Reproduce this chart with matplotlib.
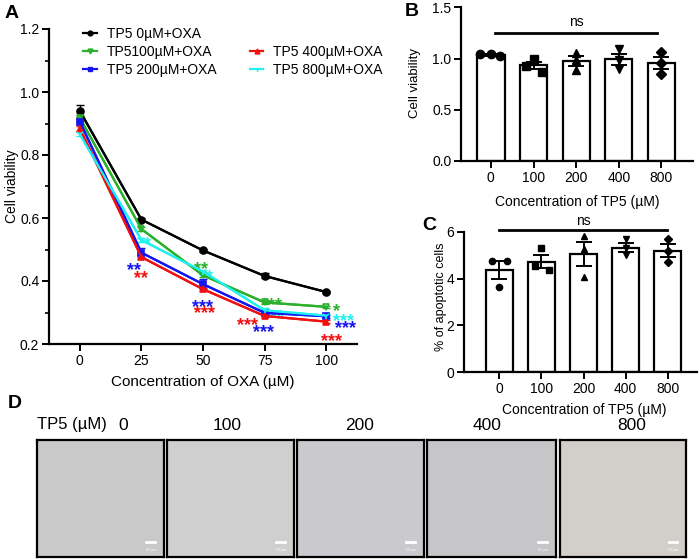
import numpy as np
import matplotlib
matplotlib.use("Agg")
import matplotlib.pyplot as plt
from matplotlib.lines import Line2D
from matplotlib.ticker import MultipleLocator, FormatStrFormatter

plt.rcParams['font.family'] = ['Liberation Sans', 'DejaVu Sans']

# ---------------- data ----------------
oxa_conc = [0, 25, 50, 75, 100]
series_labels = ["TP5 0µM+OXA", "TP5100µM+OXA", "TP5 200µM+OXA", "TP5 400µM+OXA", "TP5 800µM+OXA"]
via_tp5_0 = [0.940, 0.595, 0.497, 0.416, 0.365]
via_tp5_100 = [0.918, 0.565, 0.418, 0.332, 0.318]
via_tp5_200 = [0.906, 0.490, 0.390, 0.299, 0.288]
via_tp5_400 = [0.884, 0.476, 0.374, 0.289, 0.271]
via_tp5_800 = [0.866, 0.530, 0.430, 0.307, 0.290]
err_tp5_0 = [0.020, 0.005, 0.004, 0.008, 0.004]
err_tp5_100 = [0.010, 0.005, 0.005, 0.004, 0.004]
err_tp5_200 = [0.008, 0.015, 0.015, 0.005, 0.004]
err_tp5_400 = [0.008, 0.005, 0.005, 0.004, 0.004]
err_tp5_800 = [0.006, 0.006, 0.006, 0.006, 0.005]

# significance labels: (text, colour key, x, y)
star_labels = [
    ("*", "c", 27.5, 0.535),
    ("**", "b", 22.0, 0.452), ("**", "r", 24.8, 0.426),
    ("**", "g", 49.2, 0.455), ("**", "c", 51.2, 0.432),
    ("***", "b", 50.0, 0.336), ("***", "r", 50.8, 0.316),
    ("***", "g", 78.0, 0.342), ("***", "c", 78.5, 0.303),
    ("***", "r", 67.9, 0.279), ("***", "b", 74.4, 0.255),
    ("*", "g", 104.0, 0.323), ("***", "c", 107.0, 0.290),
    ("***", "b", 107.7, 0.268), ("***", "r", 102.0, 0.229),
]

tp5_cats = ["0", "100", "200", "400", "800"]
b_reps = [[1.045, 1.043, 1.020], [0.930, 1.000, 0.870], [1.050, 0.990, 0.890],
          [1.090, 0.990, 0.900], [1.060, 0.960, 0.850]]
b_jit = [[-0.25, 0.0, 0.22], [-0.17, 0.0, 0.19], [0, 0, 0], [0, 0, 0], [0, 0, 0]]
c_reps = [[4.76, 4.76, 3.62], [5.29, 4.53, 4.36], [5.83, 5.26, 4.08],
          [5.67, 5.29, 5.00], [5.67, 5.17, 4.72]]
c_jit = [[-0.18, 0.18, 0.0], [0.0, -0.16, 0.17], [0, 0, 0], [0, 0, 0], [0, 0, 0]]
group_markers = ["o", "s", "^", "v", "D"]

image_labels = ["0", "100", "200", "400", "800"]
image_colors = ["#c9c9c9", "#cfcfcf", "#c9c9ce", "#c6c6c8", "#d2cec9"]

# ---------------- figure ----------------
W, H = 699, 559
fig = plt.figure(figsize=(W / 100, H / 100), dpi=100)
fig.patch.set_facecolor("white")


def px_axes(x0, y0, x1, y1):
    return fig.add_axes([x0 / W, 1 - y1 / H, (x1 - x0) / W, (y1 - y0) / H])


def ftext(x, y, s, **kw):
    fig.text(x / W, 1 - y / H, s, ha="center", va="center", **kw)


def style_axes(ax):
    for s in ["top", "right"]:
        ax.spines[s].set_visible(False)
    for s in ["left", "bottom"]:
        ax.spines[s].set_linewidth(1.6)
    ax.tick_params(which="major", length=5, width=1.4, labelsize=10, pad=2)
    ax.tick_params(which="minor", length=3, width=1.2)


# ---------------- panel A ----------------
axA = px_axes(49, 29, 357, 344)
style_axes(axA)
colors = {"k": "black", "g": "#2ab02a", "b": "#1515f0", "r": "#f01010", "c": "#20f0f0"}
series = [
    (via_tp5_0, err_tp5_0, "k", "o"),
    (via_tp5_100, err_tp5_100, "g", "v"),
    (via_tp5_200, err_tp5_200, "b", "s"),
    (via_tp5_400, err_tp5_400, "r", "^"),
    (via_tp5_800, err_tp5_800, "c", "1"),
]
handles = []
for (vals, errs, ck, mk), lab in zip(series, series_labels):
    col = colors[ck]
    axA.errorbar(oxa_conc, vals, yerr=errs, color=col, lw=1.6, capsize=3,
                 elinewidth=1.0, capthick=1.0, zorder=3)
    axA.plot(oxa_conc, vals, color=col, lw=1.6, marker=mk, ms=5,
             mfc=col if mk != "v" else "none", mec=col, mew=1.2, zorder=4)
    handles.append(Line2D([], [], color=col, lw=1.6, marker=mk, ms=3.5, mfc=col, mec=col))
for txt, ck, x, y in star_labels:
    axA.annotate(txt, (x, y), xytext=(0, -4.5), textcoords="offset points",
                 ha="center", va="center", color=colors[ck], fontsize=13,
                 fontweight="bold")
axA.set_xlim(-12.5, 112.5)
axA.set_ylim(0.2, 1.2)
axA.set_xticks(oxa_conc)
axA.yaxis.set_major_locator(MultipleLocator(0.2))
axA.yaxis.set_minor_locator(MultipleLocator(0.1))
axA.yaxis.set_major_formatter(FormatStrFormatter("%.1f"))
blank = Line2D([], [], linestyle="none", marker=None)
leg_handles = [handles[0], handles[1], handles[2], blank, handles[3], handles[4]]
leg_labels = [series_labels[0], series_labels[1], series_labels[2], "", series_labels[3], series_labels[4]]
axA.legend(leg_handles, leg_labels, ncol=2, frameon=False, fontsize=10,
           loc="upper left", bbox_to_anchor=(83 / W, 1 - 27 / H),
           bbox_transform=fig.transFigure, borderpad=0, borderaxespad=0,
           handlelength=1.0, handletextpad=0.7, columnspacing=2.4, labelspacing=0.28)
ftext(12, 186, "Cell viability", rotation=90, fontsize=10)
ftext(203, 382, "Concentration of OXA (µM)", fontsize=11)

# ---------------- panel B ----------------
axB = px_axes(461, 7.3, 693, 161)
style_axes(axB)
xs = np.arange(len(tp5_cats))
b_mean = [np.mean(r) for r in b_reps]
b_sem = [np.std(r, ddof=1) / np.sqrt(len(r)) for r in b_reps]
axB.bar(xs, b_mean, width=0.64, color="white", edgecolor="black", lw=1.6, zorder=2)
axB.errorbar(xs, b_mean, yerr=b_sem, fmt="none", ecolor="black", elinewidth=1.4,
             capsize=5.5, capthick=1.4, zorder=3)
for i, (reps, jit) in enumerate(zip(b_reps, b_jit)):
    axB.plot(i + np.array(jit), reps, linestyle="none", marker=group_markers[i],
             ms=6 if group_markers[i] != "D" else 5, color="black", zorder=4)
axB.plot([0.1, 3.9], [1.25, 1.25], color="black", lw=2, clip_on=False)
axB.text(2.0, 1.36, "ns", ha="center", va="center", fontsize=10)
axB.set_xlim(-0.7, 4.74)
axB.set_ylim(0, 1.5)
axB.set_xticks(xs)
axB.set_xticklabels(tp5_cats)
axB.set_yticks([0, 0.5, 1.0, 1.5])
axB.yaxis.set_major_formatter(FormatStrFormatter("%.1f"))
ftext(415, 83, "Cell viability", rotation=90, fontsize=9.5)
ftext(577, 202, "Concentration of TP5 (µM)", fontsize=10)

# ---------------- panel C ----------------
axC = px_axes(464, 231.7, 696.7, 372.3)
style_axes(axC)
c_mean = [np.mean(r) for r in c_reps]
c_sem = [np.std(r, ddof=1) / np.sqrt(len(r)) for r in c_reps]
axC.bar(xs, c_mean, width=0.63, color="white", edgecolor="black", lw=1.6, zorder=2)
axC.errorbar(xs, c_mean, yerr=c_sem, fmt="none", ecolor="black", elinewidth=1.4,
             capsize=5.5, capthick=1.4, zorder=3)
for i, (reps, jit) in enumerate(zip(c_reps, c_jit)):
    axC.plot(i + np.array(jit), reps, linestyle="none", marker=group_markers[i],
             ms=4.5 if group_markers[i] != "D" else 3.8, color="black", zorder=4)
axC.plot([0.0, 3.98], [6.07, 6.07], color="black", lw=2, clip_on=False)
axC.text(2.0, 6.47, "ns", ha="center", va="center", fontsize=10)
axC.set_xlim(-0.84, 4.69)
axC.set_ylim(0, 6)
axC.set_xticks(xs)
axC.set_xticklabels(tp5_cats)
axC.set_yticks([0, 2, 4, 6])
ftext(441, 297, "% of apoptotic cells", rotation=90, fontsize=9)
ftext(584, 410, "Concentration of TP5 (µM)", fontsize=10)

# ---------------- panel D ----------------
frames = [(36.7, 164), (167.3, 294), (297.3, 424), (427.3, 556.3), (559.7, 686.3)]
label_x = [123, 227, 360, 487, 632]
for (x0, x1), lab, lx, col in zip(frames, image_labels, label_x, image_colors):
    ax = px_axes(x0, 440, x1, 556.7)
    ax.set_facecolor(col)
    ax.set_xticks([])
    ax.set_yticks([])
    ax.set_xlim(0, 1)
    ax.set_ylim(0, 1)
    for s in ax.spines.values():
        s.set_linewidth(1.6)
        s.set_color("black")
    ax.plot([0.86, 0.93], [0.13, 0.13], color="white", lw=2)
    ax.text(0.895, 0.06, "50 µm", color="white", fontsize=2.5, ha="center", va="center")
    ftext(lx, 425, lab, fontsize=12.5)
ftext(72, 424, "TP5 (µM)", fontsize=12)

# panel letters
for L, x, y in [("A", 12, 13), ("B", 412, 12), ("C", 429, 225), ("D", 15, 403)]:
    ftext(x, y, L, fontsize=14, fontweight="bold")

fig.savefig("out.png", dpi=100)
